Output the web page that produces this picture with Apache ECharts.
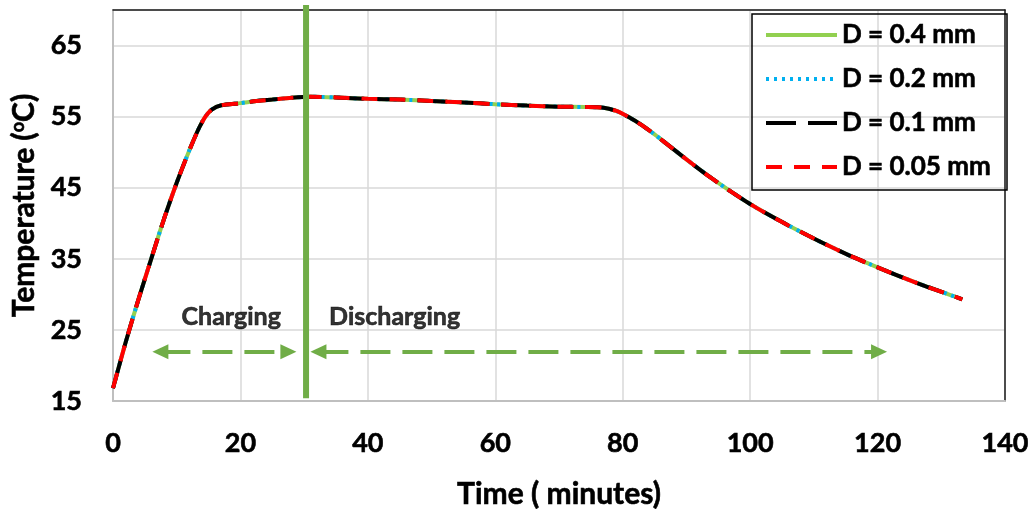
<!DOCTYPE html>
<html>
<head>
<meta charset="utf-8">
<script src="https://cdn.jsdelivr.net/npm/echarts@6/dist/echarts.min.js"></script>
<style>
  html, body { margin: 0; padding: 0; background: #fff; }
  #chart { width: 1035px; height: 509px; }
</style>
</head>
<body>
<div id="chart"></div>
<script>
// Time axis (minutes) and measured temperature (°C).
const timeMin = [0, 2, 4, 6, 8, 10, 12, 13.5, 14.5, 15.5, 17, 20, 22.5, 25, 28, 31, 35, 40, 45, 50,
  55, 60, 65, 70, 74, 77, 79, 81, 83, 85, 88, 91, 94, 97, 100, 103, 106, 110, 113, 116,
  120, 124, 128, 131, 133.3];
// The four particle diameters give the same temperature history.
const tempD04 = [16.8, 23.3, 29.3, 35.0, 40.6, 45.7, 50.3, 53.4, 55.0, 56.0, 56.6, 56.9, 57.2, 57.4, 57.65, 57.8, 57.7, 57.5, 57.4, 57.2,
  57.0, 56.75, 56.55, 56.4, 56.35, 56.25, 55.8, 54.9, 53.8, 52.5, 50.4, 48.3, 46.3, 44.45, 42.7, 41.15, 39.7, 37.85, 36.55, 35.3,
  33.8, 32.35, 31.0, 30.05, 29.3];
const tempD02 = tempD04.slice();
const tempD01 = tempD04.slice();
const tempD005 = tempD04.slice();

const seriesNames = ['D = 0.4 mm', 'D = 0.2 mm', 'D = 0.1 mm', 'D = 0.05 mm'];
const seriesTemps = [tempD04, tempD02, tempD01, tempD005];

// Axis ranges and ticks
const xTicks = { min: 0, max: 140, step: 20 };
const yTicks = { min: 15, max: 70, step: 10 };

// Charging / discharging boundary and phase arrows (time, temperature)
const switchLine = [[30.3, 15.4], [30.3, 70.7]];
const chargingArrow = [[7.44, 21.93], [27.53, 21.93]];
const dischargingArrow = [[32.24, 21.93], [120.23, 21.93]];
const phaseLabels = [[18.55, 26.85, 'Charging'], [44.2, 26.85, 'Discharging']];

const FONT = 'Lato, "Open Sans", "DejaVu Sans", sans-serif';
const boldText = (size) => ({
  fontFamily: FONT, fontWeight: 'bold', fontSize: size, color: '#000',
  textBorderColor: '#000', textBorderWidth: 0.6
});
const lineLooks = [
  { color: '#92D050', type: 'solid' },
  { color: '#00B0F0', type: [3, 5] },
  { color: '#000000', type: [30, 12] },
  { color: '#FF0000', type: [16, 12] }
];

const curveSeries = seriesNames.map((name, i) => ({
  name: name,
  type: 'line',
  data: timeMin.map((t, k) => [t, seriesTemps[i][k]]),
  symbol: 'none',
  showSymbol: false,
  smooth: 0.25,
  z: 3 + i,
  itemStyle: { color: lineLooks[i].color },
  lineStyle: { color: lineLooks[i].color, width: 4, type: lineLooks[i].type, cap: 'butt' }
}));

const chart = echarts.init(document.getElementById('chart'));
chart.setOption({
  animation: false,
  backgroundColor: '#fff',
  grid: { left: 113, right: 30, top: 10, bottom: 108, containLabel: false, outerBoundsMode: 'none' },
  legend: {
    data: seriesNames,
    orient: 'vertical',
    left: 752,
    top: 14,
    itemWidth: 71,
    itemHeight: 14,
    itemGap: 14,
    padding: [6, 10, 8, 12],
    borderColor: '#000',
    borderWidth: 1.5,
    selectedMode: false,
    itemStyle: { opacity: 0 },
    lineStyle: { width: 4 },
    textStyle: Object.assign(boldText(26), { lineHeight: 30, width: 155 })
  },
  xAxis: [{
    type: 'value',
    min: xTicks.min, max: xTicks.max, interval: xTicks.step,
    name: 'Time ( minutes)',
    nameLocation: 'middle',
    nameGap: 78,
    nameTextStyle: boldText(30),
    axisLine: { show: true, onZero: false, lineStyle: { color: '#BFBFBF', width: 2 } },
    axisTick: { show: false },
    axisLabel: Object.assign({ margin: 29 }, boldText(27)),
    splitLine: { show: true, lineStyle: { color: '#D9D9D9', width: 1.5 } }
  }, {
    type: 'value', position: 'top',
    min: xTicks.min, max: xTicks.max,
    axisLine: { show: true, onZero: false, lineStyle: { color: '#1a1a1a', width: 1.5 } },
    axisTick: { show: false }, axisLabel: { show: false }, splitLine: { show: false }
  }],
  yAxis: [{
    type: 'value',
    min: yTicks.min, max: yTicks.max, interval: yTicks.step,
    name: 'Temperature ({sup|o}C)',
    nameLocation: 'middle',
    nameGap: 74,
    nameTextStyle: Object.assign(boldText(30), {
      rich: { sup: Object.assign(boldText(18), { verticalAlign: 'top', lineHeight: 30 }) }
    }),
    axisLine: { show: true, onZero: false, lineStyle: { color: '#BFBFBF', width: 2 } },
    axisTick: { show: false },
    axisLabel: Object.assign({ margin: 31, showMaxLabel: false }, boldText(27)),
    splitLine: { show: true, lineStyle: { color: '#D9D9D9', width: 1.5 } }
  }, {
    type: 'value', position: 'right',
    min: yTicks.min, max: yTicks.max,
    axisLine: { show: true, onZero: false, lineStyle: { color: '#1a1a1a', width: 1.5 } },
    axisTick: { show: false }, axisLabel: { show: false }, splitLine: { show: false }
  }],
  series: [
    {
      name: 'switch',
      type: 'line',
      data: switchLine,
      symbol: 'none',
      clip: false,
      silent: true,
      z: 8,
      lineStyle: { color: '#70AD47', width: 6 },
      markLine: {
        silent: true,
        symbol: ['triangle', 'triangle'],
        symbolSize: [15, 16],
        label: { show: false },
        lineStyle: { color: '#70AD47', width: 4, type: [30, 12] },
        itemStyle: { color: '#70AD47' },
        data: [
          [{ coord: chargingArrow[0] }, { coord: chargingArrow[1] }],
          [{ coord: dischargingArrow[0] }, { coord: dischargingArrow[1] }]
        ]
      }
    },
    {
      name: 'phase',
      type: 'scatter',
      data: phaseLabels,
      symbolSize: 1,
      silent: true,
      itemStyle: { color: 'rgba(0,0,0,0)' },
      label: Object.assign({
        show: true, position: 'inside',
        formatter: p => p.data[2]
      }, boldText(25))
    }
  ].concat(curveSeries)
});
</script>
</body>
</html>
